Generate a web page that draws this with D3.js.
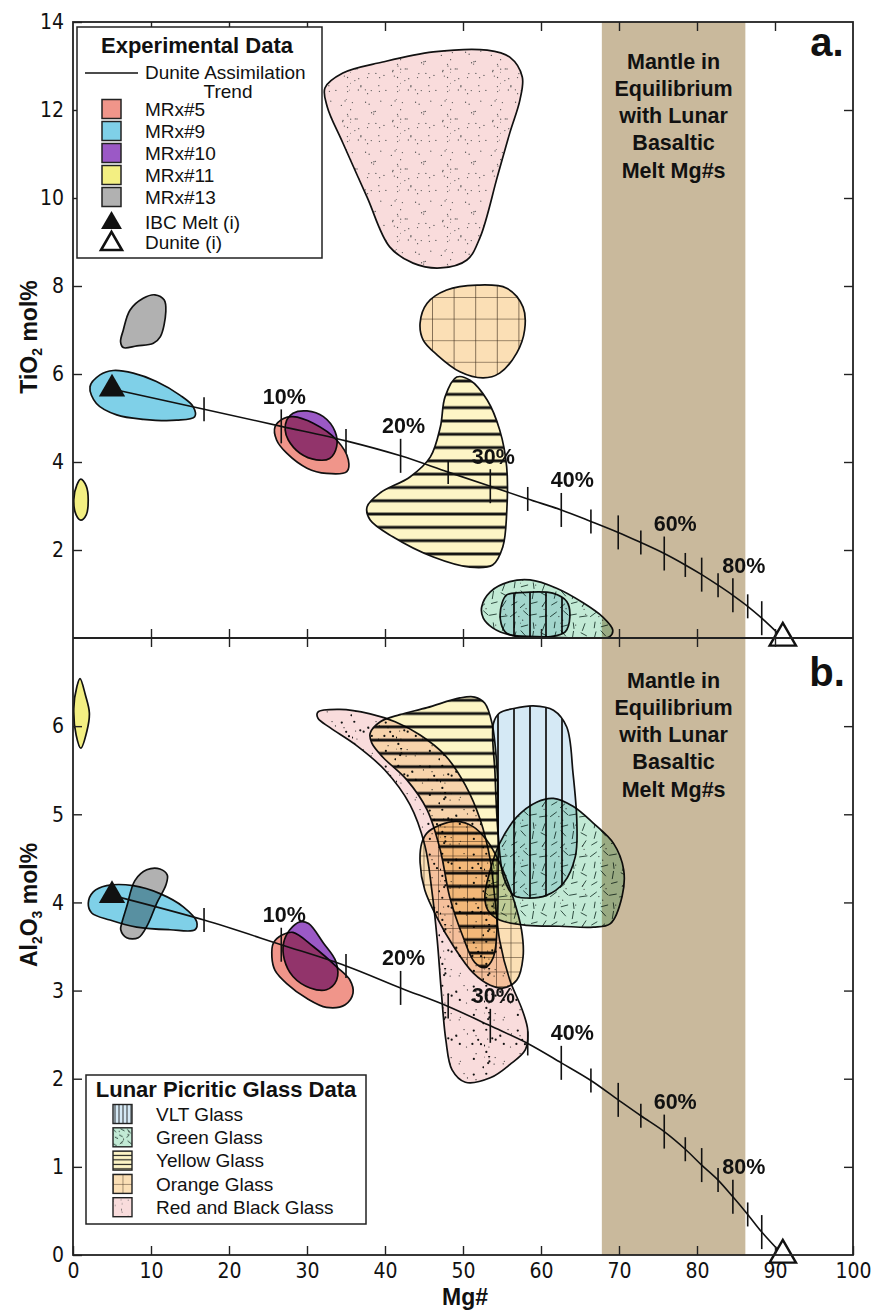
<!DOCTYPE html>
<html>
<head>
<meta charset="utf-8">
<script src="https://d3js.org/d3.v7.min.js"></script>
<style>
  body { margin: 0; background: #fff; }
  svg text { font-family: "Liberation Sans", Arial, Helvetica, sans-serif; fill: #111; }
  .blob { mix-blend-mode: multiply; }
</style>
</head>
<body>
<svg id="chart" width="890" height="1312"></svg>
<script>
// ---------- data ----------
var mgTicks = [0, 10, 20, 30, 40, 50, 60, 70, 80, 90, 100];
var tiTicks = [2, 4, 6, 8, 10, 12, 14];
var alTicks = [0, 1, 2, 3, 4, 5, 6];
var mantleMg = [67.8, 86.2];
var mantleText = ["Mantle in", "Equilibrium", "with Lunar", "Basaltic", "Melt Mg#s"];

// dunite assimilation trend: % assimilated, Mg#, TiO2, Al2O3
var trendPct = [0, 5, 10, 15, 20, 25, 30, 35, 40, 45, 50, 55, 60, 65, 70, 75, 80, 85, 90, 100];
var trendMg  = [5.0, 16.8, 26.7, 35.0, 42.0, 48.1, 53.5, 58.3, 62.6, 66.4, 69.9, 72.8, 75.8, 78.5, 80.6, 82.7, 84.6, 86.5, 88.3, 91.0];
var trendTi  = [5.66, 5.20, 4.81, 4.48, 4.14, 3.77, 3.45, 3.16, 2.91, 2.65, 2.40, 2.17, 1.92, 1.66, 1.44, 1.20, 0.97, 0.72, 0.45, 0.0];
var trendAl  = [4.08, 3.80, 3.52, 3.28, 3.03, 2.82, 2.60, 2.40, 2.18, 1.98, 1.76, 1.58, 1.40, 1.20, 1.02, 0.85, 0.66, 0.46, 0.26, 0.0];
var pctLabels = [10, 20, 30, 40, 60, 80];

var ibcMelt = { mg: 5.0, ti: 5.66, al: 4.08 };
var dunite  = { mg: 91.0, ti: 0.0, al: 0.0 };

// outlines, [Mg#, TiO2]
var tiRedBlack = [[32.3,12.5],[34.6,12.84],[39.7,13.09],[46.2,13.32],[53.1,13.36],[56.0,13.2],[57.6,12.75],[57.3,12.23],[56.0,11.48],[54.4,10.48],[52.2,9.11],[50.5,8.59],[47.1,8.41],[43.6,8.52],[40.6,8.89],[37.7,10.02],[34.6,11.25],[32.6,12.07]];
var tiOrange = [[44.5,7.16],[45.4,7.61],[47.9,7.91],[51.8,8.02],[55.6,7.95],[57.7,7.52],[57.9,7.0],[56.9,6.48],[54.7,6.02],[52.6,5.91],[49.6,6.05],[46.7,6.43],[44.9,6.77]];
var tiYellow = [[49.2,5.93],[50.9,5.86],[53.1,5.41],[54.7,4.73],[55.6,3.89],[55.6,2.84],[55.1,2.07],[53.8,1.66],[50.9,1.61],[46.2,1.84],[41.0,2.30],[38.1,2.68],[37.7,2.98],[39.4,3.30],[43.2,3.66],[45.8,4.11],[47.1,4.80],[47.7,5.48]];
var tiGreen = [[52.4,0.71],[53.5,1.05],[56.0,1.28],[58.6,1.32],[62.0,1.13],[65.4,0.80],[67.9,0.48],[69.2,0.18],[68.8,0.03],[64.6,0.0],[59.4,0.03],[56.0,0.07],[53.8,0.23],[52.6,0.45]];
var tiVlt = [[55.0,0.79],[55.6,0.98],[57.3,1.03],[61.5,1.02],[63.3,0.83],[63.7,0.48],[63.1,0.14],[61.2,0.03],[56.9,0.03],[55.4,0.14],[54.8,0.41]];
var tiMRx9 = [[2.18,5.71],[3.46,5.98],[5.17,6.08],[7.73,6.02],[10.7,5.83],[13.7,5.52],[15.4,5.26],[15.6,5.03],[13.3,4.95],[9.0,4.97],[5.6,5.07],[3.0,5.33]];
var tiMRx13 = [[6.45,7.0],[7.3,7.45],[9.0,7.72],[10.5,7.8],[11.7,7.68],[11.9,7.42],[11.2,6.85],[10.3,6.70],[8.2,6.64],[6.45,6.60],[6.1,6.73]];
var tiMRx5 = [[25.9,4.80],[27.0,4.99],[28.2,5.03],[30.8,4.88],[33.8,4.5],[35.3,4.05],[35.1,3.78],[32.5,3.74],[30.0,3.86],[27.4,4.20],[26.1,4.5]];
var tiMRx10 = [[27.4,4.95],[28.2,5.11],[30.0,5.16],[32.1,5.03],[33.6,4.69],[33.8,4.35],[32.9,4.08],[31.2,4.05],[29.1,4.20],[27.6,4.5],[27.2,4.73]];
var tiMRx11 = [[0.1,3.14],[0.5,3.48],[1.0,3.61],[1.7,3.45],[1.95,3.14],[1.7,2.8],[1.0,2.68],[0.4,2.8]];

// outlines, [Mg#, Al2O3]
var alRedBlack = [[31.4,6.16],[34.2,6.19],[38.1,6.14],[41.3,6.05],[44.5,5.90],[47.7,5.67],[50.3,5.33],[52.2,4.94],[53.5,4.48],[54.1,4.03],[54.7,3.57],[56.0,3.12],[57.6,2.78],[58.3,2.55],[58.0,2.33],[56.0,2.16],[53.5,2.01],[50.3,1.96],[48.6,2.10],[47.8,2.44],[47.2,3.01],[46.7,3.57],[46.0,4.14],[45.1,4.65],[43.2,5.11],[40.0,5.50],[36.2,5.79],[33.0,5.98],[31.4,6.09]];
var alYellow = [[38.1,5.92],[39.4,6.05],[41.9,6.13],[45.4,6.21],[49.6,6.32],[51.5,6.33],[52.8,6.26],[53.7,6.04],[54.4,5.47],[54.5,4.90],[54.5,4.33],[54.4,3.77],[53.9,3.38],[52.8,3.26],[51.5,3.32],[50.0,3.61],[48.3,4.06],[47.1,4.59],[45.4,5.05],[42.8,5.39],[39.7,5.65],[38.3,5.81]];
var alOrange = [[44.7,4.67],[45.4,4.79],[47.1,4.88],[49.2,4.92],[51.3,4.86],[53.0,4.71],[54.7,4.45],[56.4,4.06],[57.5,3.69],[57.7,3.38],[56.9,3.12],[55.2,3.03],[53.5,3.06],[51.3,3.20],[48.8,3.50],[46.6,3.84],[45.1,4.14],[44.5,4.45]];
var alVlt = [[53.9,6.03],[54.7,6.15],[56.5,6.20],[59.0,6.23],[61.6,6.18],[63.3,5.99],[64.1,5.47],[64.6,4.90],[64.4,4.52],[62.9,4.22],[60.7,4.08],[58.2,4.05],[56.5,4.08],[55.2,4.29],[54.5,4.78],[54.1,5.47]];
var alGreen = [[52.8,4.07],[53.5,4.37],[54.7,4.67],[56.9,4.97],[59.5,5.14],[61.6,5.18],[64.1,5.09],[66.7,4.90],[69.3,4.67],[70.6,4.37],[70.4,4.07],[68.9,3.76],[66.7,3.72],[62.4,3.73],[58.2,3.74],[54.7,3.80],[53.2,3.91]];
var alMRx9 = [[1.96,3.99],[2.6,4.12],[4.32,4.19],[7.73,4.19],[11.15,4.10],[14.14,3.95],[15.86,3.78],[15.64,3.69],[12.44,3.69],[8.17,3.72],[4.74,3.80],[2.4,3.88]];
var alMRx13 = [[6.24,3.76],[6.88,3.95],[7.95,4.25],[9.45,4.37],[11.15,4.38],[12.09,4.31],[11.92,4.20],[10.73,3.99],[9.53,3.74],[8.37,3.60],[6.88,3.60],[6.12,3.69]];
var alMRx5 = [[25.7,3.54],[26.8,3.63],[28.2,3.66],[30.8,3.50],[33.8,3.27],[35.5,3.12],[35.9,2.97],[34.9,2.84],[32.5,2.81],[30.0,2.91],[27.4,3.08],[25.9,3.23],[25.5,3.38]];
var alMRx10 = [[27.0,3.54],[27.8,3.69],[29.1,3.78],[30.2,3.76],[32.1,3.54],[33.7,3.33],[33.8,3.12],[32.5,3.01],[30.4,3.03],[28.2,3.16],[27.1,3.35]];
var alMRx11 = [[0.1,6.2],[0.5,6.45],[0.9,6.54],[1.6,6.35],[2.1,6.15],[1.8,5.95],[1.0,5.75],[0.4,5.9]];

var expNames = ["MRx#5", "MRx#9", "MRx#10", "MRx#11", "MRx#13"];
var expColors = ["#f0958a", "#7fd0e8", "#9b59c6", "#f3ef82", "#b1b1b1"];
var glassNames = ["VLT Glass", "Green Glass", "Yellow Glass", "Orange Glass", "Red and Black Glass"];

// ---------- layout ----------
var svg = d3.select("#chart");
var m = { left: 73, right: 853, top: 22, mid: 638, bottom: 1255 };

var x = d3.scaleLinear().domain([0, 100]).range([m.left, m.right]);
var yTi = d3.scaleLinear().domain([0, 14]).range([m.mid, m.top]);
var yAl = d3.scaleLinear().domain([0, 7]).range([m.bottom, m.mid]);

var defs = svg.append("defs");

// seeded generator, only used for the texture dots/dashes inside the patterns
function rng(seed) {
  var s = seed;
  return function() { s = (s * 16807) % 2147483647; return (s - 1) / 2147483646; };
}

function pattern(id, w, h, bg, px, py) {
  var p = defs.append("pattern").attr("id", id)
    .attr("patternUnits", "userSpaceOnUse")
    .attr("width", w).attr("height", h)
    .attr("x", px || 0).attr("y", py || 0);
  p.append("rect").attr("width", w).attr("height", h).attr("fill", bg);
  return p;
}

function dots(p, w, n, r, col, seed) {
  var rand = rng(seed);
  for (var i = 0; i < n; i++) {
    p.append("circle").attr("cx", rand() * w).attr("cy", rand() * w)
      .attr("r", r).attr("fill", col);
  }
}

// dashes on a jittered grid so they spread evenly
function dashes(p, w, cells, len, seed) {
  var rand = rng(seed), c = w / cells;
  for (var i = 0; i < cells; i++) {
    for (var j = 0; j < cells; j++) {
      var cx = (i + 0.5) * c + (rand() - 0.5) * c * 0.5;
      var cy = (j + 0.5) * c + (rand() - 0.5) * c * 0.5;
      var a = rand() * Math.PI, l = len * (0.7 + rand() * 0.4);
      p.append("line")
        .attr("x1", cx - Math.cos(a) * l / 2).attr("y1", cy - Math.sin(a) * l / 2)
        .attr("x2", cx + Math.cos(a) * l / 2).attr("y2", cy + Math.sin(a) * l / 2)
        .attr("stroke", "#1f3a30").attr("stroke-width", 0.9);
    }
  }
  dots(p, w, cells * 2, 0.6, "#333", seed + 7);
}

function hLines(p, w, h, sw) {
  p.append("line").attr("x1", 0).attr("x2", w).attr("y1", h / 2).attr("y2", h / 2)
    .attr("stroke", "#111").attr("stroke-width", sw);
}
function vLines(p, w, h, sw) {
  p.append("line").attr("x1", w / 2).attr("x2", w / 2).attr("y1", 0).attr("y2", h)
    .attr("stroke", "#1a1a1a").attr("stroke-width", sw);
}
function grid(p, s, sw) {
  p.append("path").attr("d", "M0,0H" + s + "M0,0V" + s)
    .attr("stroke", "#3a2a1a").attr("stroke-width", sw).attr("fill", "none");
}

var pinkBg = "#f9dcdc", yellowBg = "#fdf5c6", orangeBg = "#fbdfb5", greenBg = "#c2ead5", vltBg = "#d5e9f5";

// panel textures
var pRbT = pattern("rbTop", 50, 50, pinkBg); dots(pRbT, 50, 42, 0.65, "#555", 11);
var pRbB = pattern("rbBot", 44, 44, pinkBg); dots(pRbB, 44, 16, 1.1, "#111", 21); dots(pRbB, 44, 14, 0.6, "#222", 23);
var pYel = pattern("yel", 40, 13.3, yellowBg, 0, 2); hLines(pYel, 40, 13.3, 2.8);
var pOrT = pattern("orTop", 21.6, 21.6, orangeBg, 0, 16.2); grid(pOrT, 21.6, 1.2);
var pOrB = pattern("orBot", 14.5, 14.5, orangeBg, 3, 0); grid(pOrB, 14.5, 1.1);
var pGrn = pattern("grn", 40, 40, greenBg); dashes(pGrn, 40, 4, 8, 5);
var pVlt = pattern("vlt", 16, 40, vltBg, 10, 0); vLines(pVlt, 16, 40, 1.8);

var closedLine = function(ys) {
  return d3.line().x(function(d) { return x(d[0]); }).y(function(d) { return ys(d[1]); })
    .curve(d3.curveCatmullRomClosed.alpha(0.5));
};

// clip each panel
defs.append("clipPath").attr("id", "clipTop").append("rect")
  .attr("x", m.left).attr("y", m.top).attr("width", m.right - m.left).attr("height", m.mid - m.top);
defs.append("clipPath").attr("id", "clipBot").append("rect")
  .attr("x", m.left).attr("y", m.mid).attr("width", m.right - m.left).attr("height", m.bottom - m.mid);

function blob(g, pts, ys, fill) {
  g.append("path").datum(pts).attr("class", "blob")
    .attr("d", closedLine(ys))
    .attr("fill", fill).attr("stroke", "#111").attr("stroke-width", 1.7);
}

function panel(ys, clip, shapes, trendY, mantleY0) {
  var g = svg.append("g").attr("clip-path", "url(#" + clip + ")");
  // mantle band
  g.append("rect")
    .attr("x", x(mantleMg[0])).attr("width", x(mantleMg[1]) - x(mantleMg[0]))
    .attr("y", ys.range()[1]).attr("height", ys.range()[0] - ys.range()[1])
    .attr("fill", "#c9b99c");
  shapes.forEach(function(s) { blob(g, s[0], ys, s[1]); });

  // trend line
  var tr = trendPct.map(function(p, i) { return [trendMg[i], trendY[i], p]; });
  g.append("path").datum(tr)
    .attr("d", d3.line().x(function(d) { return x(d[0]); }).y(function(d) { return ys(d[1]); })
      .curve(d3.curveCatmullRom.alpha(0.5)))
    .attr("fill", "none").attr("stroke", "#111").attr("stroke-width", 1.6);
  g.selectAll(".tk").data(tr.filter(function(d) { return d[2] > 0 && d[2] < 100; }))
    .enter().append("line")
    .attr("x1", function(d) { return x(d[0]); }).attr("x2", function(d) { return x(d[0]); })
    .attr("y1", function(d) { return ys(d[1]) - (d[2] % 10 === 0 ? 17 : 12); })
    .attr("y2", function(d) { return ys(d[1]) + (d[2] % 10 === 0 ? 17 : 12); })
    .attr("stroke", "#111").attr("stroke-width", 1.6);
  g.selectAll(".pl").data(tr.filter(function(d) { return pctLabels.indexOf(d[2]) >= 0; }))
    .enter().append("text")
    .attr("x", function(d) { return x(d[0]) + (d[2] >= 40 ? 11 : 3); })
    .attr("y", function(d) { return ys(d[1]) - 30; })
    .attr("dy", "0.35em").attr("text-anchor", "middle")
    .attr("font-size", 21.5).attr("font-weight", "bold")
    .text(function(d) { return d[2] + "%"; });

  // IBC melt and dunite
  var tri = d3.symbol().type(d3.symbolTriangle).size(300);
  g.append("path").attr("d", tri)
    .attr("transform", "translate(" + x(ibcMelt.mg) + "," + ys(trendY[0]) + ")")
    .attr("fill", "#111");
  svg.append("path").attr("d", tri)
    .attr("transform", "translate(" + x(dunite.mg) + "," + ys(0) + ")")
    .attr("fill", "#fff").attr("stroke", "#111").attr("stroke-width", 2.4);

  // mantle label
  svg.selectAll(null).data(mantleText).enter().append("text")
    .attr("x", (x(mantleMg[0]) + x(mantleMg[1])) / 2)
    .attr("y", function(d, i) { return mantleY0 + i * 27.3; })
    .attr("dy", "0.35em").attr("text-anchor", "middle")
    .attr("font-size", 21.5).attr("font-weight", "bold")
    .text(function(d) { return d; });
}

panel(yTi, "clipTop", [
  [tiRedBlack, "url(#rbTop)"], [tiOrange, "url(#orTop)"], [tiYellow, "url(#yel)"],
  [tiGreen, "url(#grn)"], [tiVlt, "url(#vlt)"],
  [tiMRx9, expColors[1]], [tiMRx13, expColors[4]], [tiMRx5, expColors[0]],
  [tiMRx10, expColors[2]], [tiMRx11, expColors[3]]
], trendTi, 61);

panel(yAl, "clipBot", [
  [alRedBlack, "url(#rbBot)"], [alYellow, "url(#yel)"], [alOrange, "url(#orBot)"],
  [alVlt, "url(#vlt)"], [alGreen, "url(#grn)"],
  [alMRx9, expColors[1]], [alMRx13, expColors[4]], [alMRx5, expColors[0]],
  [alMRx10, expColors[2]], [alMRx11, expColors[3]]
], trendAl, 680);

// ---------- axes ----------
function styleAxis(sel) {
  sel.select(".domain").remove();
  sel.selectAll(".tick line").attr("stroke", "#222").attr("stroke-width", 1.4);
  sel.selectAll("text").attr("font-size", 21).attr("fill", "#111")
    .style("font-family", "'Liberation Sans Narrow', 'DejaVu Sans Condensed', 'Liberation Sans', Arial, sans-serif");
}
var fmt = d3.format("d");

svg.append("g").attr("transform", "translate(0," + m.bottom + ")")
  .call(d3.axisBottom(x).tickValues(mgTicks).tickFormat(fmt).tickSizeInner(-9).tickSizeOuter(0).tickPadding(8))
  .call(styleAxis);
svg.append("g").attr("transform", "translate(0," + m.top + ")")
  .call(d3.axisTop(x).tickValues(mgTicks.slice(1, -1)).tickSizeInner(-9).tickSizeOuter(0).tickFormat(""))
  .call(styleAxis);
svg.append("g").attr("transform", "translate(0," + m.mid + ")")
  .call(d3.axisTop(x).tickValues(mgTicks.slice(1, -1)).tickSizeInner(9).tickSizeOuter(0).tickFormat(""))
  .call(styleAxis);
svg.append("g").attr("transform", "translate(0," + m.mid + ")")
  .call(d3.axisBottom(x).tickValues(mgTicks.slice(1, -1)).tickSizeInner(9).tickSizeOuter(0).tickFormat(""))
  .call(styleAxis);

svg.append("g").attr("transform", "translate(" + m.left + ",0)")
  .call(d3.axisLeft(yTi).tickValues(tiTicks).tickFormat(fmt).tickSizeInner(-9).tickSizeOuter(0).tickPadding(9))
  .call(styleAxis);
svg.append("g").attr("transform", "translate(" + m.right + ",0)")
  .call(d3.axisRight(yTi).tickValues(tiTicks.slice(0, -1)).tickSizeInner(-9).tickSizeOuter(0).tickFormat(""))
  .call(styleAxis);
svg.append("g").attr("transform", "translate(" + m.left + ",0)")
  .call(d3.axisLeft(yAl).tickValues(alTicks).tickFormat(fmt).tickSizeInner(-9).tickSizeOuter(0).tickPadding(9))
  .call(styleAxis);
svg.append("g").attr("transform", "translate(" + m.right + ",0)")
  .call(d3.axisRight(yAl).tickValues(alTicks.slice(1)).tickSizeInner(-9).tickSizeOuter(0).tickFormat(""))
  .call(styleAxis);

// frame
svg.append("rect").attr("x", m.left).attr("y", m.top).attr("width", m.right - m.left).attr("height", m.bottom - m.top)
  .attr("fill", "none").attr("stroke", "#222").attr("stroke-width", 1.8);
svg.append("line").attr("x1", m.left).attr("x2", m.right).attr("y1", m.mid).attr("y2", m.mid)
  .attr("stroke", "#222").attr("stroke-width", 2);

// axis titles
var t1 = svg.append("text").attr("transform", "translate(37,337) rotate(-90)")
  .attr("text-anchor", "middle").attr("font-size", 23).attr("font-weight", "bold");
t1.append("tspan").text("TiO");
t1.append("tspan").attr("font-size", 14).attr("dy", 5).text("2");
t1.append("tspan").attr("dy", -5).text(" mol%");
var t2 = svg.append("text").attr("transform", "translate(37,905) rotate(-90)")
  .attr("text-anchor", "middle").attr("font-size", 23).attr("font-weight", "bold");
t2.append("tspan").text("Al");
t2.append("tspan").attr("font-size", 14).attr("dy", 5).text("2");
t2.append("tspan").attr("dy", -5).text("O");
t2.append("tspan").attr("font-size", 14).attr("dy", 5).text("3");
t2.append("tspan").attr("dy", -5).text(" mol%");
svg.append("text").attr("x", (m.left + m.right) / 2 + 2).attr("y", 1305)
  .attr("text-anchor", "middle").attr("font-size", 23).attr("font-weight", "bold").text("Mg#");

svg.append("text").attr("x", 827).attr("y", 56).attr("text-anchor", "middle")
  .attr("font-size", 40).attr("font-weight", "bold").text("a.");
svg.append("text").attr("x", 827).attr("y", 686).attr("text-anchor", "middle")
  .attr("font-size", 40).attr("font-weight", "bold").text("b.");

// ---------- legend: experimental ----------
var lg1 = svg.append("g");
lg1.append("rect").attr("x", 77).attr("y", 27).attr("width", 245).attr("height", 231)
  .attr("fill", "#fff").attr("stroke", "#222").attr("stroke-width", 1.5);
lg1.append("text").attr("x", 197).attr("y", 45).attr("dy", "0.35em").attr("text-anchor", "middle")
  .attr("font-size", 22).attr("font-weight", "bold").text("Experimental Data");
lg1.append("line").attr("x1", 85).attr("x2", 138).attr("y1", 73).attr("y2", 73)
  .attr("stroke", "#111").attr("stroke-width", 1.6);
lg1.append("text").attr("x", 145).attr("y", 72).attr("dy", "0.35em").attr("font-size", 19)
  .text("Dunite Assimilation");
lg1.append("text").attr("x", 228).attr("y", 91).attr("dy", "0.35em").attr("text-anchor", "middle")
  .attr("font-size", 19).text("Trend");
expNames.forEach(function(n, i) {
  var cy = 109 + i * 22;
  lg1.append("rect").attr("x", 102).attr("y", cy - 9.5).attr("width", 19).attr("height", 19)
    .attr("fill", expColors[i]).attr("stroke", "#222").attr("stroke-width", 1.5);
  lg1.append("text").attr("x", 145).attr("y", cy).attr("dy", "0.35em").attr("font-size", 19).text(n);
});
var triS = d3.symbol().type(d3.symbolTriangle).size(190);
lg1.append("path").attr("d", triS).attr("transform", "translate(111.5,223)").attr("fill", "#111");
lg1.append("text").attr("x", 145).attr("y", 222).attr("dy", "0.35em").attr("font-size", 19).text("IBC Melt (i)");
lg1.append("path").attr("d", triS).attr("transform", "translate(111.5,244)")
  .attr("fill", "#fff").attr("stroke", "#111").attr("stroke-width", 2.6);
lg1.append("text").attr("x", 145).attr("y", 242).attr("dy", "0.35em").attr("font-size", 19).text("Dunite (i)");

// ---------- legend: glass ----------
var lg2 = svg.append("g");
lg2.append("rect").attr("x", 86).attr("y", 1075).attr("width", 280).attr("height", 149)
  .attr("fill", "#fff").attr("stroke", "#222").attr("stroke-width", 1.5);
lg2.append("text").attr("x", 226).attr("y", 1089).attr("dy", "0.35em").attr("text-anchor", "middle")
  .attr("font-size", 22).attr("font-weight", "bold").text("Lunar Picritic Glass Data");
glassNames.forEach(function(n, i) {
  var cy = 1114 + i * 23.3, sx = 113, sy = cy - 9.5, id = "lgG" + i, p;
  if (i === 0) { p = pattern(id, 4, 19, vltBg, sx, sy); vLines(p, 4, 19, 0.9); }
  if (i === 1) { p = pattern(id, 19, 19, greenBg, sx, sy); dashes(p, 19, 3, 5, 3); }
  if (i === 2) { p = pattern(id, 19, 4.5, yellowBg, sx, sy + 2); hLines(p, 19, 4.5, 1.1); }
  if (i === 3) { p = pattern(id, 9.5, 9.5, orangeBg, sx, sy); grid(p, 9.5, 0.9); }
  if (i === 4) { p = pattern(id, 19, 19, pinkBg, sx, sy); dots(p, 19, 10, 0.5, "#555", 9); }
  lg2.append("rect").attr("x", sx).attr("y", sy).attr("width", 19).attr("height", 19)
    .attr("fill", "url(#" + id + ")").attr("stroke", "#222").attr("stroke-width", 1.4);
  lg2.append("text").attr("x", 156).attr("y", cy).attr("dy", "0.35em").attr("font-size", 19).text(n);
});
</script>
</body>
</html>
